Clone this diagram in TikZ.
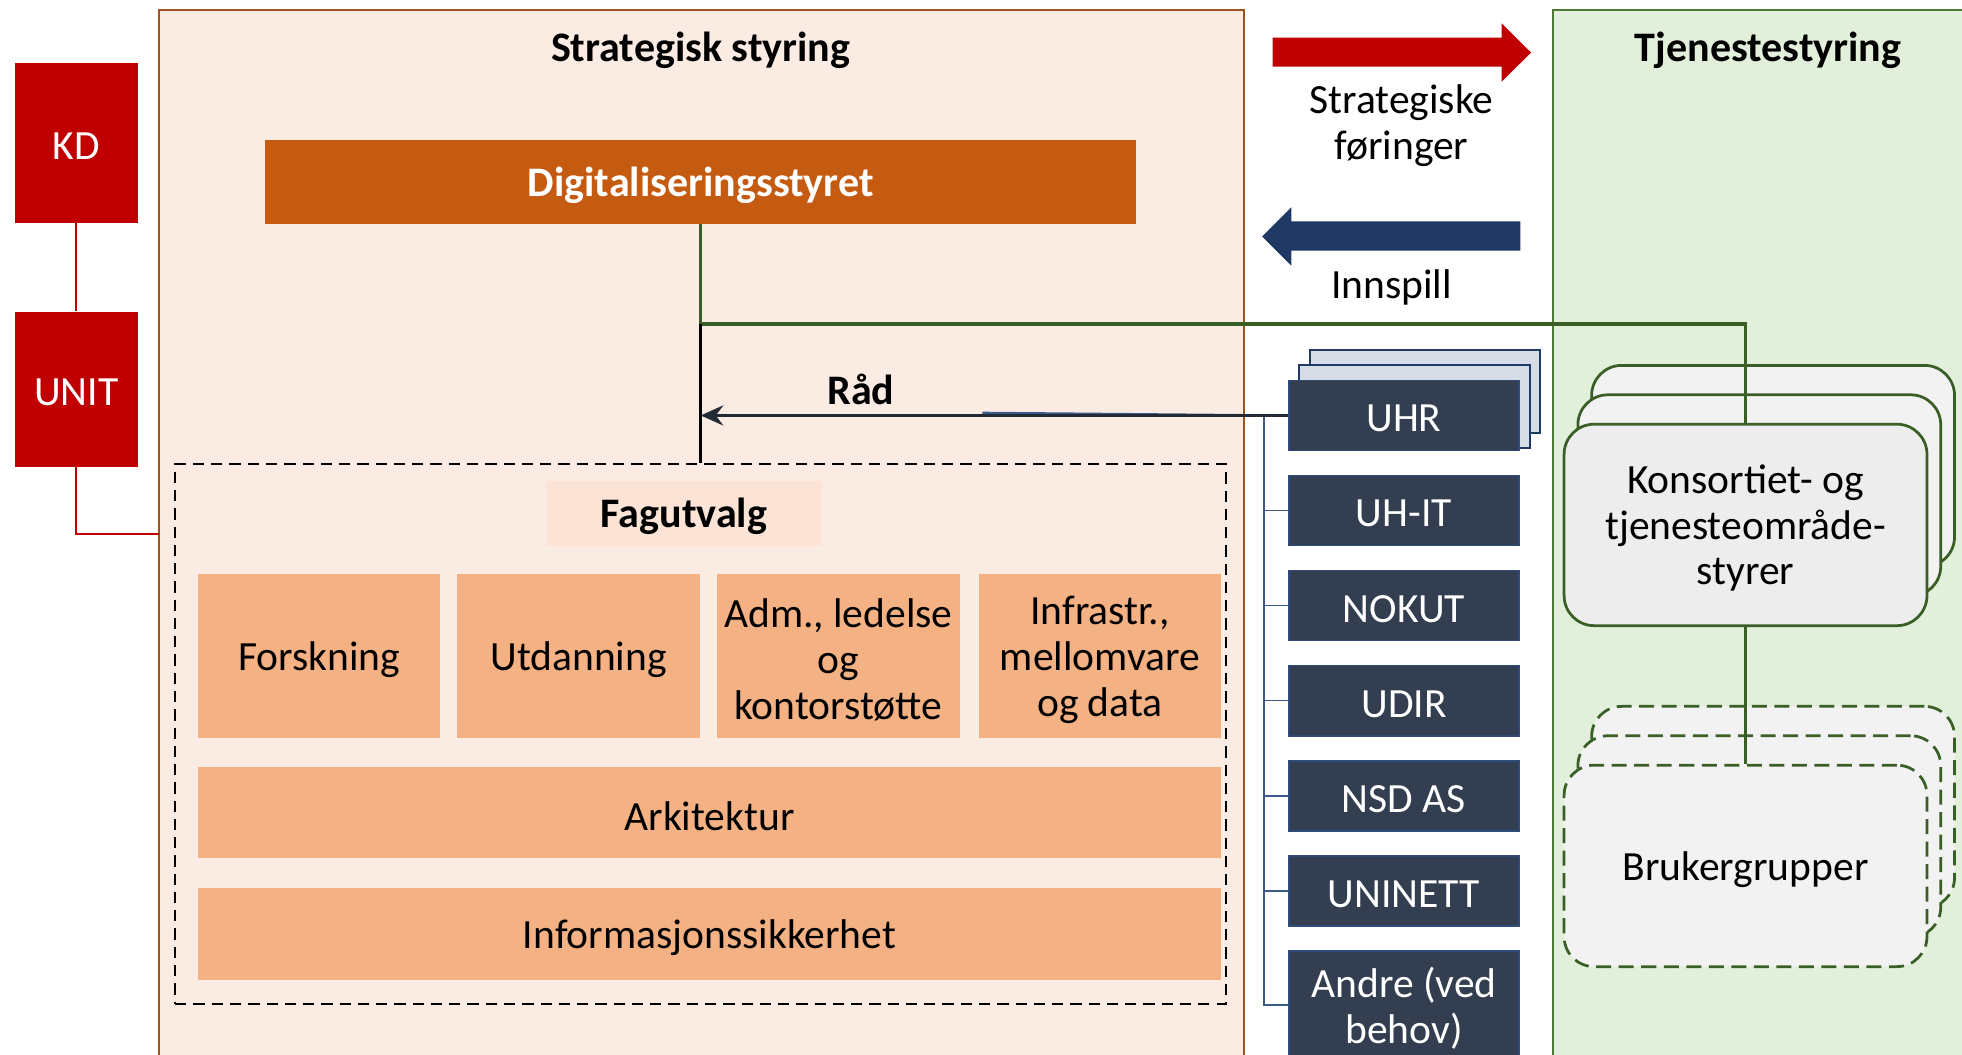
\documentclass[tikz,border=0pt]{standalone}
\usepackage{fontspec}
\setmainfont{Carlito}
\usetikzlibrary{arrows.meta}
\definecolor{stratbg}{HTML}{FBECE3}
\definecolor{stratbd}{HTML}{A0521E}
\definecolor{digfill}{HTML}{C55A11}
\definecolor{kdred}{HTML}{C00000}
\definecolor{orangebox}{HTML}{F4B183}
\definecolor{faglbl}{HTML}{FBE3D6}
\definecolor{slate}{HTML}{333F50}
\definecolor{slatebd}{HTML}{2F4B7C}
\definecolor{paleblue}{HTML}{D6DCE5}
\definecolor{tjbg}{HTML}{E2EFDA}
\definecolor{tjbd}{HTML}{4F7A35}
\definecolor{dkgreen}{HTML}{3A5F26}
\definecolor{greybox}{HTML}{F2F2F2}
\definecolor{navyarrow}{HTML}{203864}
\definecolor{arrowdark}{HTML}{222A35}
\definecolor{treeblue}{HTML}{3B5A8C}
\begin{document}
\begin{tikzpicture}[x=0.5pt,y=-0.5pt,
 every node/.style={font=\fontsize{16.6}{18.3}\selectfont, align=center, inner sep=0pt},
 hd/.style={font=\bfseries\fontsize{16.8}{18.5}\selectfont},
 lbl/.style={label={[yshift=-1.3pt]center:{#1}}},
 lblw/.style={label={[yshift=-1.3pt, text=white]center:{#1}}},
 lblb/.style={label={[yshift=-1.3pt, hd]center:{#1}}},
 lblbw/.style={label={[yshift=-1.3pt, hd, text=white]center:{#1}}},
 redbox/.style={fill=kdred, minimum width=49pt},
 orbox/.style={fill=orangebox, minimum width=97pt, minimum height=65.5pt},
 wideorbox/.style={fill=orangebox, minimum width=409pt, minimum height=36.5pt},
 orgbox/.style={fill=slate, draw=slatebd, line width=0.6pt, minimum width=92pt, minimum height=28pt},
 backbox/.style={fill=paleblue, draw=navyarrow, line width=0.8pt, minimum width=92pt, minimum height=33pt},
 roundbox/.style={fill=greybox, draw=dkgreen, line width=1.1pt, rounded corners=12pt, minimum width=145pt, minimum height=80.5pt},
 dashbox/.style={roundbox, dash pattern=on 6pt off 3pt},
 greenline/.style={draw=dkgreen, line width=1.3pt},
 redline/.style={draw=kdred, line width=0.8pt},
 treeline/.style={draw=treeblue, line width=0.6pt}
]
\useasboundingbox (0,0) rectangle (1568,843);
\clip (0,0) rectangle (1568,843);
\fill[white] (0,0) rectangle (1568,843);
% panels
\draw[fill=stratbg, draw=stratbd, line width=1pt] (127,8) rectangle (994,880);
\draw[fill=tjbg, draw=tjbd, line width=1pt] (1241,8) rectangle (1600,880);
\node[hd] (strattitle) at (560,40.5) {Strategisk styring};
\node[hd] (tjtitle) at (1413,40.5) {Tjenestestyring};
% left
\node[redbox, minimum height=64pt, lblw={KD}] (kd) at (61,114) {};
\node[redbox, minimum height=62pt, lblw={UNIT}] (unit) at (61,311) {};
\coordinate (stratleft) at (127,427);
% strategic content
\node[fill=digfill, minimum width=348pt, minimum height=33.5pt, lblbw={Digitaliseringsstyret}] (dig) at (560,145.5) {};
\node[draw=black, line width=0.8pt, dash pattern=on 4.5pt off 2.8pt, minimum width=420pt, minimum height=215.5pt] (fag) at (560,586.5) {};
\node[fill=faglbl, minimum width=110.5pt, minimum height=26pt, lblb={Fagutvalg}] (faglbl) at (546.5,410) {};
\node[orbox, lbl={Forskning}] (forsk) at (255,524.5) {};
\node[orbox, lbl={Utdanning}] (utd) at (462.5,524.5) {};
\node[orbox, lbl={Adm., ledelse\\og\\kontorstøtte}] (adm) at (670,524.5) {};
\node[orbox, lbl={Infrastr.,\\mellomvare\\og data}] (infra) at (879,524.5) {};
\node[wideorbox, lbl={Arkitektur}] (ark) at (567,649.5) {};
\node[wideorbox, lbl={Informasjonssikkerhet}] (info) at (567,746.5) {};
% middle column
\node[backbox] (uhrb2) at (1139,313) {};
\node[backbox] (uhrb1) at (1130.5,325) {};
\node[orgbox, lblw={UHR}] (uhr) at (1122,332) {};
\node[orgbox, lblw={UH-IT}] (uhit) at (1122,408) {};
\node[orgbox, lblw={NOKUT}] (nokut) at (1122,484) {};
\node[orgbox, lblw={UDIR}] (udir) at (1122,560) {};
\node[orgbox, lblw={NSD AS}] (nsd) at (1122,636) {};
\node[orgbox, lblw={UNINETT}] (uninett) at (1122,712) {};
\node[orgbox, minimum height=43pt, lblw={Andre (ved\\behov)}] (andre) at (1122,803) {};
% block arrows
\fill[kdred] (1017,30.1) -- (1200,30.1) -- (1200,18.6) -- (1223.6,42) -- (1200,65.3) -- (1200,53.3) -- (1017,53.3) -- cycle;
\fill[navyarrow] (1215,177) -- (1032,177) -- (1032,165.6) -- (1008.6,189) -- (1032,212.3) -- (1032,200.3) -- (1215,200.3) -- cycle;
\node (strtxt) at (1120,100.5) {Strategiske\\føringer};
\node (innsp) at (1112,230) {Innspill};
% tjeneste content
\node[roundbox] (konsb2) at (1417,372.5) {};
\node[roundbox] (konsb1) at (1406,396) {};
\node[roundbox, fill=black!7, lbl={Konsortiet- og\\tjenesteområde-\\styrer}] (kons) at (1395,419.5) {};
\node[dashbox] (brukb2) at (1417,645) {};
\node[dashbox] (brukb1) at (1406,668.5) {};
\node[dashbox, lbl={Brukergrupper}] (bruk) at (1395,692) {};
% connectors
\draw[redline] (kd.south) -- (unit.north);
\draw[redline] (unit.south) |- (stratleft);
\coordinate (junc) at (560,259);
\draw[greenline] (dig.south) -- (junc) -| (kons.north);
\draw[black, line width=1pt] (junc) -- (fag.north);
\draw[greenline] (kons.south) -- (bruk.north);
\coordinate (trunk) at (1010,332);
\coordinate (radmid) at (785,330);
\draw[treeline] (trunk) |- (andre.west);
\draw[treeline] (trunk |- uhit.west) -- (uhit.west);
\draw[treeline] (trunk |- nokut.west) -- (nokut.west);
\draw[treeline] (trunk |- udir.west) -- (udir.west);
\draw[treeline] (trunk |- nsd.west) -- (nsd.west);
\draw[treeline] (trunk |- uninett.west) -- (uninett.west);
\draw[treeline, line width=1pt] (radmid) -- (trunk);
\draw[arrowdark, line width=1.3pt, -{Stealth[length=9pt, width=8pt, inset=3pt]}] (uhr.west) -- (uhr.west -| junc);
\node[hd] (rad) at (688,311) {Råd};
\end{tikzpicture}
\end{document}
